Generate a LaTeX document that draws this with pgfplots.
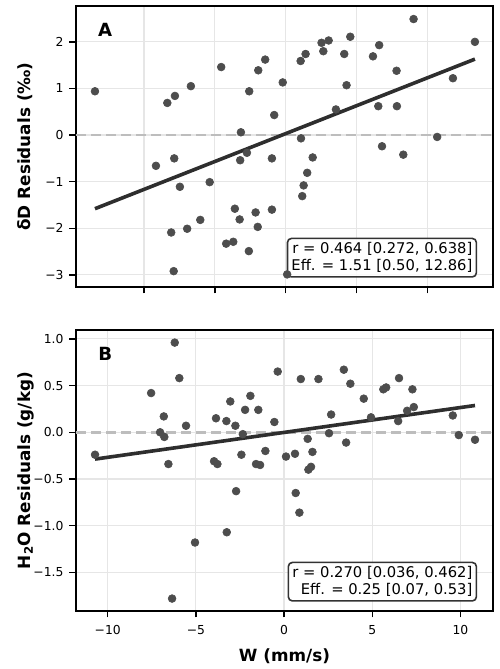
\documentclass[border=0pt]{standalone}
\usepackage{fontspec}
\setmainfont{DejaVu Sans}
\usepackage{pgfplots}
\pgfplotsset{compat=1.18}

\definecolor{dotc}{HTML}{4D4D4D}
\definecolor{fitc}{HTML}{2E2E2E}
\definecolor{gridc}{HTML}{E6E6E6}
\definecolor{zeroc}{HTML}{BDBDBD}
\definecolor{boxc}{HTML}{333333}

% residuals of dD against vertical velocity W
\pgfplotstableread{
w dd
-10.76 0.94
-6.68 0.69
-6.25 0.84
-5.35 1.05
-3.64 1.46
-2.06 0.94
-1.55 1.39
-1.16 1.62
-0.65 0.43
-0.17 1.13
-2.53 0.06
0.84 1.59
1.12 1.74
2.02 1.98
2.42 2.03
2.12 1.80
3.30 1.74
3.64 2.11
3.43 1.07
2.83 0.55
4.92 1.69
5.27 1.93
7.21 2.49
6.25 1.38
5.22 0.62
6.27 0.62
9.43 1.22
10.67 2.00
0.86 -0.07
8.54 -0.04
5.43 -0.24
-7.32 -0.66
-6.29 -0.50
-5.97 -1.11
-4.29 -1.01
-2.57 -0.54
-2.19 -0.38
-0.78 -0.50
-2.87 -1.58
-2.60 -1.81
-1.70 -1.66
-0.78 -1.60
-1.58 -1.97
-4.82 -1.82
-5.56 -2.01
-6.46 -2.09
-3.36 -2.33
-2.96 -2.29
-2.08 -2.49
-6.32 -2.92
6.63 -0.42
1.52 -0.48
1.21 -0.81
1.01 -1.08
0.93 -1.31
0.08 -2.99
}\ddtable

% residuals of H2O against vertical velocity W
\pgfplotstableread{
w q
-6.20 0.96
-5.94 0.58
-7.54 0.42
-6.82 0.17
-7.03 0.00
-6.79 -0.05
-5.56 0.07
-10.72 -0.24
-6.56 -0.34
-3.86 0.15
-3.27 0.12
-3.05 0.33
-2.76 0.07
-2.21 0.24
-1.91 0.39
-1.46 0.24
-2.34 -0.02
-0.55 0.11
-0.36 0.65
-3.97 -0.31
-3.78 -0.34
-2.42 -0.24
-1.06 -0.20
-1.59 -0.34
-1.36 -0.35
0.11 -0.26
0.95 0.57
1.95 0.57
3.39 0.67
3.76 0.52
4.52 0.36
5.63 0.46
5.79 0.48
6.52 0.58
7.28 0.46
7.36 0.27
6.98 0.23
6.47 0.12
4.93 0.16
2.67 0.19
2.55 -0.01
3.52 -0.11
9.57 0.18
9.91 -0.03
10.83 -0.08
1.34 -0.07
1.61 -0.21
0.62 -0.23
1.53 -0.37
1.38 -0.40
-2.72 -0.63
-3.25 -1.07
-5.05 -1.18
-6.35 -1.78
0.66 -0.65
0.87 -0.86
}\qtable

\pgfplotsset{
  resid/.style={
    scale only axis, width=417bp, height=281bp, anchor=south west,
    axis line style={line width=1.6bp, black},
    tick align=outside, major tick length=6.5bp,
    tick style={line width=1.4bp, black},
    tick pos=left,
    grid=major, major grid style={line width=1.2bp, gridc},
    ticklabel style={font=\fontsize{12.4}{14}\selectfont},
    xticklabel style={yshift=-4bp},
    yticklabel style={xshift=-2.5bp},
    every axis y label/.style={at={(rel axis cs:0,0.5)}, anchor=center,
      xshift=-50.5bp, rotate=90,
      font=\bfseries\fontsize{16.9}{19}\selectfont},
    every axis x label/.style={at={(rel axis cs:0.5,0)}, anchor=center,
      yshift=-45.7bp, font=\bfseries\fontsize{16.9}{19}\selectfont},
  },
  dots/.style={only marks, color=dotc, mark=*, mark size=3.9bp,
    mark options={draw=dotc, fill=dotc, line width=0.6bp}},
  zero/.style={zeroc, line width=2.6bp, dash pattern=on 10bp off 5bp},
  fit/.style={fitc, line width=3.6bp},
}
\tikzset{
  statbox/.style={draw=boxc, line width=1.6bp, rounded corners=4bp,
    fill=white, fill opacity=0.8, text opacity=1, inner sep=4bp,
    align=right, font=\fontsize{14.8}{17.4}\selectfont, anchor=south east},
  panel/.style={font=\bfseries\fontsize{18.2}{20}\selectfont, anchor=center},
}

\begin{document}
\begin{tikzpicture}
\useasboundingbox (0,0) rectangle (500bp,669bp);

\begin{axis}[resid, at={(76bp,382bp)},
  xmin=-11.83, xmax=11.69, ymin=-3.26, ymax=2.77,
  xtick={-8,-4,0,4,8}, xticklabels={,,,,},
  ytick={-3,-2,-1,0,1,2},
  yticklabels={−3,−2,−1,0,1,2},
  ylabel={δD Residuals (‰)}]
  \addplot[zero] coordinates {(-11.83,0) (11.69,0)};
  \addplot[dots] table[x=w, y=dd] {\ddtable};
  \addplot[fit] coordinates {(-10.76,-1.58) (10.67,1.63)};
  \node[panel] at (rel axis cs:0.070,0.915) {A};
  \node[statbox] at (rel axis cs:0.962,0.033)
    {r = 0.464 [0.272, 0.638]\\Eff. = 1.51 [0.50, 12.86]};
\end{axis}

\begin{axis}[resid, at={(76bp,58bp)},
  xmin=-11.80, xmax=11.85, ymin=-1.913, ymax=1.095,
  xtick={-10,-5,0,5,10}, xticklabels={−10,−5,0,5,10},
  ytick={-1.5,-1,-0.5,0,0.5,1},
  yticklabels={−1.5,−1.0,−0.5,0.0,0.5,1.0},
  xlabel={W (mm/s)},
  ylabel={H\textsubscript{2}O Residuals (g/kg)}]
  \addplot[zero] coordinates {(-11.80,0) (11.85,0)};
  \addplot[dots] table[x=w, y=q] {\qtable};
  \addplot[fit] coordinates {(-10.72,-0.287) (10.83,0.287)};
  \node[panel] at (rel axis cs:0.070,0.915) {B};
  \node[statbox] at (rel axis cs:0.962,0.033)
    {r = 0.270 [0.036, 0.462]\\Eff. = 0.25 [0.07, 0.53]};
\end{axis}
\end{tikzpicture}
\end{document}
